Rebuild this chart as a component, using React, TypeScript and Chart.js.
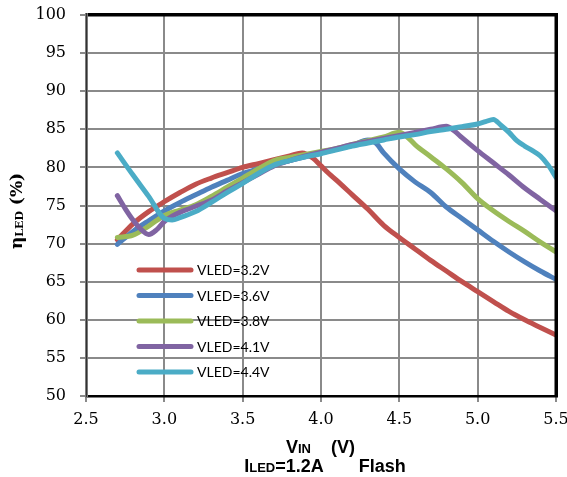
import React, { useEffect, useRef } from 'react';
import { Chart, registerables } from 'chart.js';

Chart.register(...registerables);

// ---- data ----
const seriesLabels = ['VLED=3.2V', 'VLED=3.6V', 'VLED=3.8V', 'VLED=4.1V', 'VLED=4.4V'];
const seriesColors = ['#C0504D', '#4F81BD', '#9BBB59', '#8064A2', '#4BACC6'];

const v32X = [2.7, 2.8, 2.9, 3.0, 3.1, 3.2, 3.3, 3.4, 3.5, 3.6, 3.7, 3.8, 3.88, 3.95, 4.0, 4.05, 4.1, 4.2, 4.3, 4.4, 4.5, 4.6, 4.7, 4.8, 4.9, 5.0, 5.1, 5.2, 5.3, 5.4, 5.5];
const v32Y = [70.5, 72.6, 74.2, 75.5, 76.7, 77.8, 78.6, 79.3, 80.0, 80.5, 81.0, 81.5, 81.9, 81.2, 80.2, 79.2, 78.3, 76.4, 74.5, 72.4, 70.8, 69.3, 67.8, 66.4, 65.0, 63.7, 62.4, 61.1, 60.0, 59.0, 58.0];

const v36X = [2.7, 2.8, 2.9, 3.0, 3.1, 3.2, 3.3, 3.4, 3.5, 3.6, 3.7, 3.8, 3.9, 4.0, 4.1, 4.2, 4.3, 4.35, 4.4, 4.5, 4.6, 4.7, 4.8, 4.9, 5.0, 5.1, 5.2, 5.3, 5.4, 5.5];
const v36Y = [69.9, 71.6, 73.0, 74.3, 75.4, 76.4, 77.4, 78.3, 79.2, 79.8, 80.4, 80.9, 81.4, 81.9, 82.4, 82.9, 83.6, 83.2, 81.9, 79.8, 78.1, 76.7, 74.8, 73.3, 71.8, 70.3, 68.9, 67.6, 66.4, 65.3];

const v38X = [2.7, 2.8, 2.9, 3.0, 3.1, 3.2, 3.3, 3.4, 3.5, 3.6, 3.7, 3.8, 3.9, 4.0, 4.1, 4.2, 4.3, 4.4, 4.5, 4.55, 4.6, 4.7, 4.8, 4.9, 5.0, 5.1, 5.2, 5.3, 5.4, 5.5];
const v38Y = [70.8, 71.1, 72.3, 73.7, 74.4, 75.1, 76.2, 77.4, 78.6, 79.8, 80.9, 81.3, 81.7, 82.1, 82.5, 83.0, 83.5, 84.0, 84.6, 84.0, 83.0, 81.4, 79.8, 78.0, 75.9, 74.3, 72.9, 71.6, 70.2, 68.9];

const v41X = [2.7, 2.75, 2.8, 2.85, 2.9, 2.95, 3.0, 3.05, 3.1, 3.2, 3.3, 3.4, 3.5, 3.6, 3.7, 3.8, 3.9, 4.0, 4.1, 4.2, 4.3, 4.4, 4.5, 4.6, 4.7, 4.8, 4.85, 4.9, 5.0, 5.1, 5.2, 5.3, 5.4, 5.5];
const v41Y = [76.3, 74.6, 73.1, 71.9, 71.2, 71.8, 72.9, 73.6, 74.1, 74.9, 75.7, 76.9, 78.0, 79.1, 80.2, 80.9, 81.5, 82.0, 82.5, 83.0, 83.4, 83.8, 84.2, 84.6, 85.0, 85.4, 84.8, 83.9, 82.2, 80.6, 79.0, 77.3, 75.8, 74.3];

const v44X = [2.7, 2.8, 2.9, 3.0, 3.05, 3.1, 3.2, 3.3, 3.4, 3.5, 3.6, 3.7, 3.8, 3.9, 4.0, 4.1, 4.2, 4.3, 4.4, 4.5, 4.6, 4.7, 4.8, 4.9, 5.0, 5.05, 5.1, 5.15, 5.2, 5.25, 5.3, 5.35, 5.4, 5.45, 5.5];
const v44Y = [81.9, 79.0, 76.2, 73.3, 73.1, 73.4, 74.2, 75.4, 76.7, 77.9, 79.2, 80.3, 80.9, 81.4, 81.8, 82.3, 82.8, 83.2, 83.6, 84.0, 84.3, 84.7, 85.0, 85.35, 85.7, 86.0, 86.3, 85.5, 84.6, 83.5, 82.8, 82.2, 81.5, 80.3, 78.7];

const seriesX = [v32X, v36X, v38X, v41X, v44X];
const seriesY = [v32Y, v36Y, v38Y, v41Y, v44Y];

const xMin = 2.5, xMax = 5.5, xStep = 0.5;
const yMin = 50, yMax = 100, yStep = 5;

const serif = '"DejaVu Serif", serif';
const sans = '"Liberation Sans", Arial, sans-serif';

const framePlugin = {
  id: 'frame',
  afterDatasetsDraw(chart: any) {
    const ctx = chart.ctx as CanvasRenderingContext2D;
    const a = chart.chartArea;
    ctx.save();
    ctx.globalAlpha = 1;
    ctx.setLineDash([]);
    ctx.lineCap = 'butt';
    ctx.fillStyle = '#000000';
    // top, right, bottom as filled rects
    ctx.fillRect(a.left, a.top - 2, a.right - a.left + 2, 3.5);
    ctx.fillRect(a.right - 1.5, a.top - 2, 3.5, a.bottom - a.top + 3);
    ctx.fillRect(a.left, a.bottom - 1, a.right - a.left + 2, 2.5);
    ctx.fillStyle = '#7a7a7a';
    ctx.fillRect(a.left - 1, a.top - 2, 3, a.bottom - a.top + 4);
    ctx.fillStyle = '#333';
    ctx.fillRect(a.left, a.top - 2, 1, a.bottom - a.top + 3);
    ctx.restore();
  },
};

const decorPlugin = {
  id: 'decor',
  afterDraw(chart: any) {
    const ctx = chart.ctx as CanvasRenderingContext2D;
    ctx.save();
    // legend
    ctx.font = '14px Lato, sans-serif';
    ctx.textBaseline = 'middle';
    ctx.textAlign = 'left';
    const rows = [270, 295.5, 321, 346.5, 372];
    chart.data.datasets.forEach((ds: any, i: number) => {
      const y = rows[i];
      ctx.strokeStyle = ds.borderColor;
      ctx.lineWidth = 5;
      ctx.lineCap = 'round';
      ctx.beginPath();
      ctx.moveTo(139, y);
      ctx.lineTo(191, y);
      ctx.stroke();
      ctx.fillStyle = '#000';
      ctx.fillText(ds.label, 197, y + 0.5);
    });

    // y title (rotated)
    ctx.save();
    ctx.translate(22, 211);
    ctx.rotate(-Math.PI / 2);
    ctx.fillStyle = '#000';
    ctx.textBaseline = 'alphabetic';
    const big = 'bold 17px ' + serif;
    const small = 'bold 11px ' + serif;
    ctx.font = big;
    const w1 = ctx.measureText('η').width;
    const w3 = ctx.measureText(' (%)').width;
    ctx.font = small;
    const w2 = ctx.measureText('LED').width;
    let x = -(w1 + w2 + w3) / 2;
    ctx.font = big;
    ctx.fillText('η', x, 0);
    x += w1;
    ctx.font = small;
    ctx.fillText('LED', x, 1);
    x += w2;
    ctx.font = big;
    ctx.fillText(' (%)', x, 0);
    ctx.restore();

    // x title lines
    const bigS = 'bold 18px ' + sans;
    const smallS = 'bold 13px ' + sans;
    const drawParts = (parts: [string, string][], cx: number, by: number) => {
      let tw = 0;
      parts.forEach(([t, f]) => { ctx.font = f; tw += ctx.measureText(t).width; });
      let px = cx - tw / 2;
      parts.forEach(([t, f]) => {
        ctx.font = f;
        ctx.fillText(t, px, by);
        px += ctx.measureText(t).width;
      });
    };
    ctx.fillStyle = '#000';
    ctx.textBaseline = 'alphabetic';
    drawParts([['V', bigS], ['IN', smallS], ['    (V)', bigS]], 320.5, 453);
    drawParts([['I', bigS], ['LED', smallS], ['=1.2A', bigS], ['       Flash', bigS]], 325, 471.5);
    ctx.restore();
  },
};

const noPad = (s: any) => {
  s.paddingLeft = 0;
  s.paddingRight = 0;
  s.paddingTop = 0;
  s.paddingBottom = 0;
};

export default function App() {
  const ref = useRef<HTMLCanvasElement>(null);
  useEffect(() => {
    if (!ref.current) return;
    const datasets = seriesLabels.map((label, i) => ({
      label,
      data: seriesX[i].map((x, j) => ({ x, y: seriesY[i][j] })),
      borderColor: seriesColors[i],
      backgroundColor: seriesColors[i],
      borderWidth: 5,
      pointRadius: 0,
      tension: 0.4,
      cubicInterpolationMode: 'monotone' as const,
      borderCapStyle: 'round' as const,
      borderJoinStyle: 'round' as const,
      order: seriesLabels.length - i,
      fill: false,
    }));
    const chart = new Chart(ref.current, {
      type: 'line',
      data: { datasets },
      options: {
        responsive: false,
        animation: false,
        layout: { padding: { top: 15, right: 11, left: 0, bottom: 0 } },
        plugins: { legend: { display: false }, tooltip: { enabled: false }, title: { display: false } },
        scales: {
          x: {
            type: 'linear',
            min: xMin,
            max: xMax,
            ticks: {
              stepSize: xStep,
              color: '#000',
              font: { family: serif, size: 16 },
              padding: 8,
              maxRotation: 0,
              callback: (v: any) => Number(v).toFixed(1),
            },
            grid: { color: '#8a8a8a', lineWidth: 2, tickLength: 6, drawTicks: true },
            border: { display: false },
            afterFit: (s: any) => { s.height = 81; noPad(s); },
          },
          y: {
            type: 'linear',
            min: yMin,
            max: yMax,
            ticks: {
              stepSize: yStep,
              color: '#000',
              font: { family: serif, size: 16 },
              padding: 14,
            },
            grid: { color: '#8a8a8a', lineWidth: 2, tickLength: 6, drawTicks: true },
            border: { display: false },
            afterFit: (s: any) => { s.width = 86; noPad(s); },
          },
        },
      },
      plugins: [framePlugin, decorPlugin],
    });
    return () => chart.destroy();
  }, []);
  return (
    <div style={{ position: 'fixed', left: 0, top: 0, width: 567, height: 477, background: '#fff' }}>
      <canvas ref={ref} width={567} height={477} style={{ display: 'block' }} />
    </div>
  );
}
